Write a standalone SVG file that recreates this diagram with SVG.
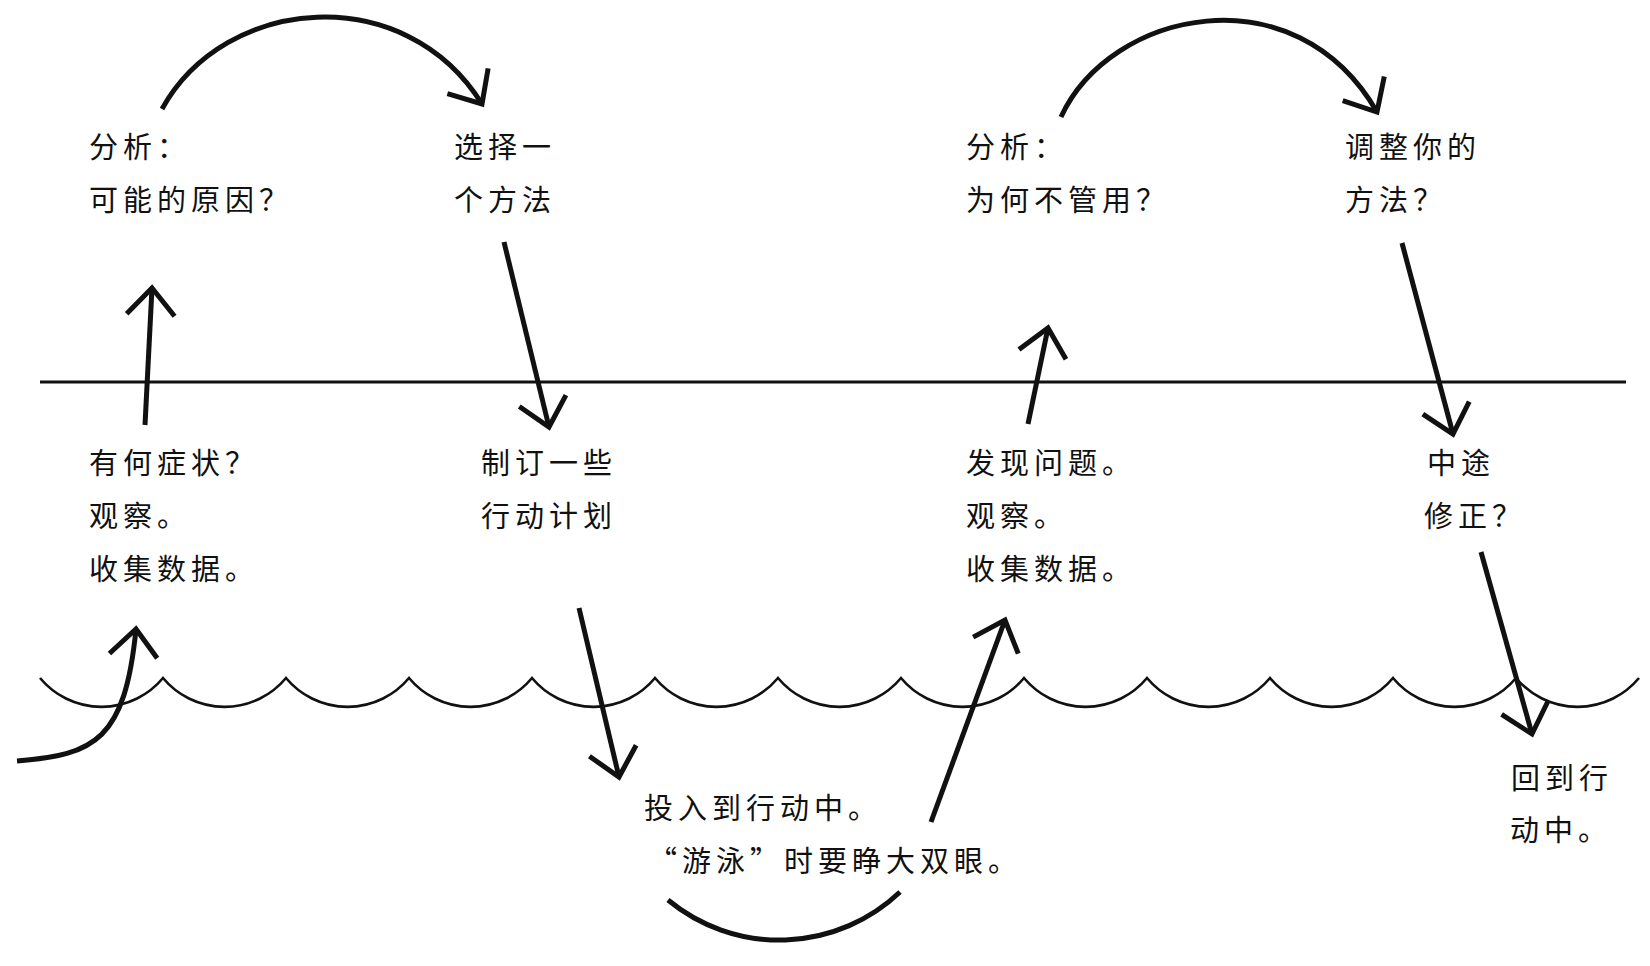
<svg xmlns="http://www.w3.org/2000/svg" width="1650" height="966" viewBox="0 0 1650 966">
  <style>
    .t { font-family: "Noto Sans CJK SC", "Noto Sans CJK JP", sans-serif; font-size: 29px; letter-spacing: 5px; fill: #111; font-weight: 400; }
    .arrow { fill: none; stroke: #111; stroke-width: 5; stroke-linecap: butt; }
    .wave { fill: none; stroke: #111; stroke-width: 2.6; stroke-linejoin: miter; }
    .surface { fill: none; stroke: #111; stroke-width: 3; }
  </style>
  <defs>
    <marker id="head" markerUnits="userSpaceOnUse" markerWidth="60" markerHeight="60" viewBox="-40 -30 50 60" refX="0" refY="0" orient="auto">
      <path d="M -27,-24 L 0,0 L -27,24" fill="none" stroke="#111" stroke-width="5" stroke-linejoin="miter" stroke-linecap="butt"/>
    </marker>
  </defs>
  <rect width="1650" height="966" fill="#fff"/>

  <g id="surface-line">
    <line class="surface" x1="40" y1="382" x2="1626" y2="382"/>
  </g>

  <g id="waves">
    <path class="wave" d="M40,678 a80,80 0 0 0 123,0 a80,80 0 0 0 123,0 a80,80 0 0 0 123,0 a80,80 0 0 0 123,0 a80,80 0 0 0 123,0 a80,80 0 0 0 123,0 a80,80 0 0 0 123,0 a80,80 0 0 0 123,0 a80,80 0 0 0 123,0 a80,80 0 0 0 123,0 a80,80 0 0 0 123,0 a80,80 0 0 0 123,0 a80,80 0 0 0 123,0"/>
  </g>

  <g id="connectors">
    <path class="arrow" d="M162,109 C225,-5 405,-20 482,104" marker-end="url(#head)"/>
    <path class="arrow" d="M1061,117 C1110,10 1295,-30 1377,112" marker-end="url(#head)"/>
    <path class="arrow" d="M145,425 L152,288" marker-end="url(#head)"/>
    <path class="arrow" d="M504,242 L549,427" marker-end="url(#head)"/>
    <path class="arrow" d="M579,608 L619,777" marker-end="url(#head)"/>
    <path class="arrow" d="M668,900 A175,175 0 0 0 900,892"/>
    <path class="arrow" d="M931,822 L1005,620" marker-end="url(#head)"/>
    <path class="arrow" d="M1028,424 L1048,328" marker-end="url(#head)"/>
    <path class="arrow" d="M1402,243 L1453,434" marker-end="url(#head)"/>
    <path class="arrow" d="M1481,552 L1532,734" marker-end="url(#head)"/>
    <path class="arrow" d="M17,761 C95,755 125,740 136,629" marker-end="url(#head)"/>
  </g>

  <g id="node-analyze-causes">
    <text class="t" x="89" y="158">分析：</text>
    <text class="t" x="89" y="211">可能的原因？</text>
  </g>
  <g id="node-choose-method">
    <text class="t" x="454" y="158">选择一</text>
    <text class="t" x="454" y="211">个方法</text>
  </g>
  <g id="node-analyze-why">
    <text class="t" x="966" y="158">分析：</text>
    <text class="t" x="966" y="211">为何不管用？</text>
  </g>
  <g id="node-adjust-method">
    <text class="t" x="1345" y="158">调整你的</text>
    <text class="t" x="1345" y="211">方法？</text>
  </g>
  <g id="node-symptoms">
    <text class="t" x="89" y="474">有何症状？</text>
    <text class="t" x="89" y="527">观察。</text>
    <text class="t" x="89" y="580">收集数据。</text>
  </g>
  <g id="node-plan">
    <text class="t" x="481" y="474">制订一些</text>
    <text class="t" x="481" y="527">行动计划</text>
  </g>
  <g id="node-find-problem">
    <text class="t" x="966" y="474">发现问题。</text>
    <text class="t" x="966" y="527">观察。</text>
    <text class="t" x="966" y="580">收集数据。</text>
  </g>
  <g id="node-correct">
    <text class="t" x="1427" y="474">中途</text>
    <text class="t" x="1424" y="527">修正？</text>
  </g>
  <g id="node-action">
    <text class="t" x="644" y="819">投入到行动中。</text>
    <text class="t" x="648" y="872">“游泳”时要睁大双眼。</text>
  </g>
  <g id="node-back-to-action">
    <text class="t" x="1511" y="789">回到行</text>
    <text class="t" x="1510" y="841">动中。</text>
  </g>
</svg>
